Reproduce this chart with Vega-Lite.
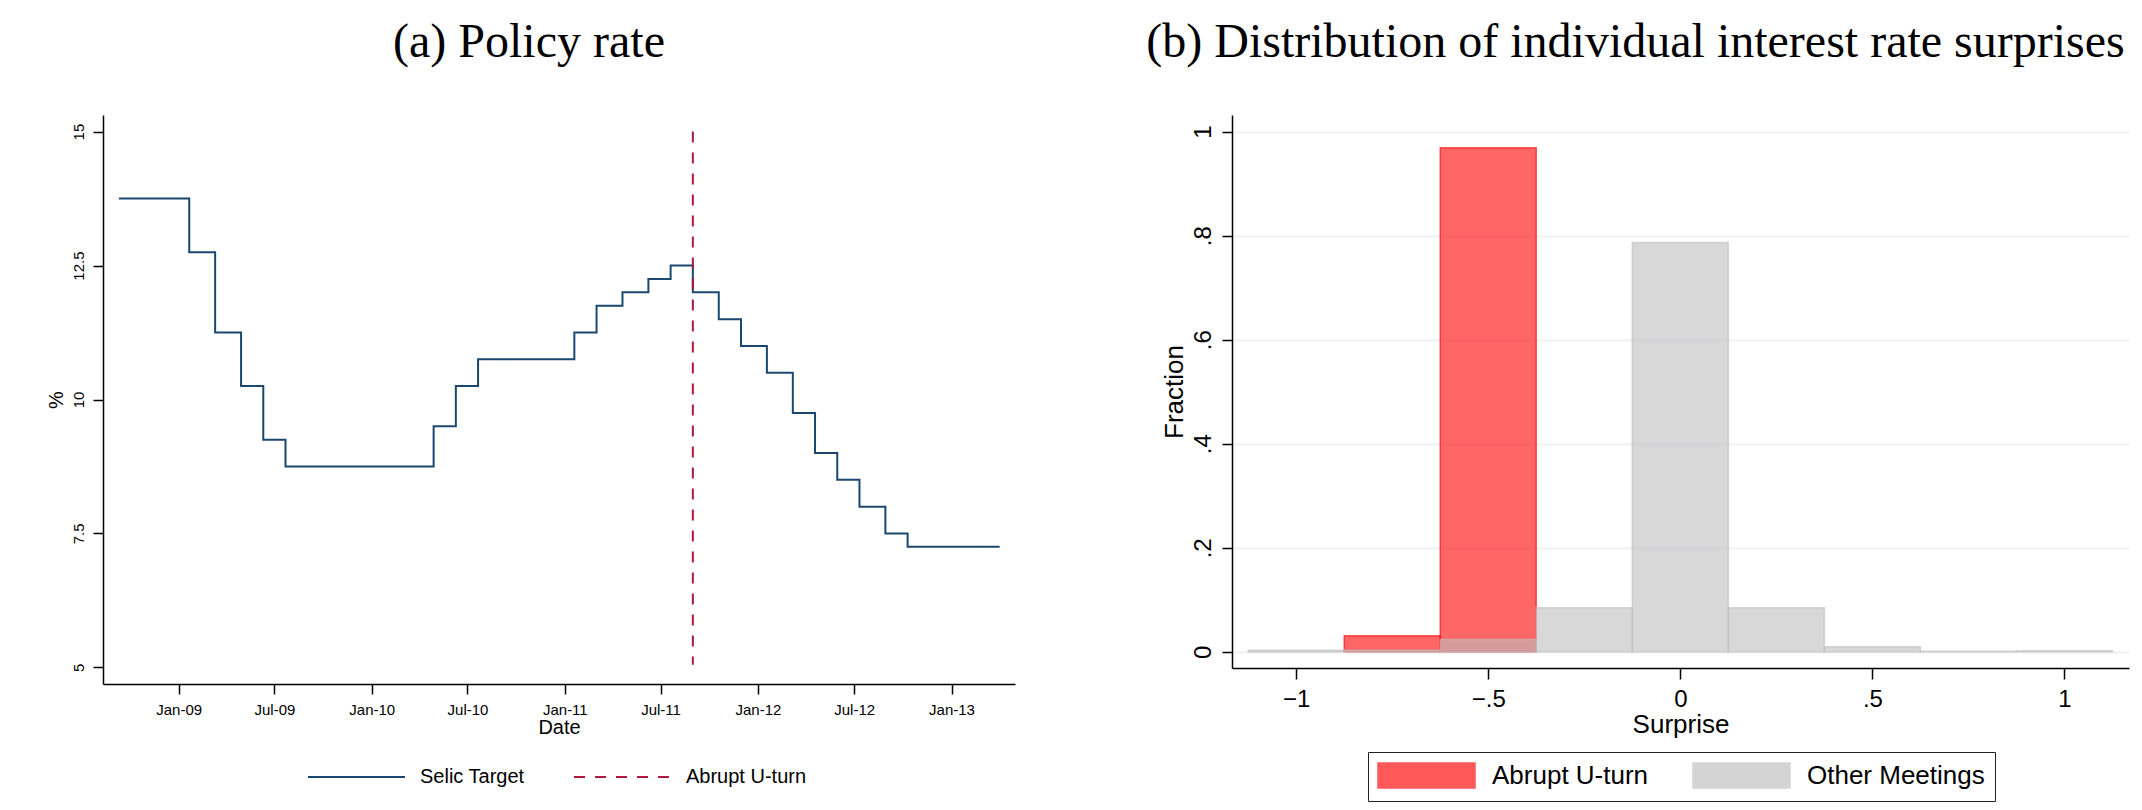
{
  "$schema": "https://vega.github.io/schema/vega-lite/v6.json",
  "background": "white",
  "padding": {"left": 46, "top": 19, "right": 5, "bottom": 5},
  "spacing": 131,
  "config": {
    "view": {"stroke": null},
    "font": "Liberation Sans",
    "title": {"font": "Liberation Serif", "fontSize": 48, "fontWeight": "normal", "color": "black", "baseline": "alphabetic", "offset": 48, "anchor": "middle"},
    "axis": {"domainColor": "black", "tickColor": "black", "labelColor": "black", "titleColor": "black", "titleFontWeight": "normal", "titleFont": "Liberation Sans", "labelFont": "Liberation Sans", "grid": false, "domainWidth": 1.5, "tickWidth": 1.5, "tickSize": 10, "labelOverlap": false, "labelFlush": false}
  },
  "resolve": {
    "scale": {"x": "independent", "y": "independent", "color": "independent", "strokeDash": "independent", "fill": "independent", "stroke": "independent"},
    "legend": {"color": "independent", "strokeDash": "independent", "fill": "independent", "stroke": "independent"}
  },
  "hconcat": [
    {
      "title": {"text": "(a) Policy rate", "dx": -30},
      "width": 912,
      "height": 569,
      "layer": [
        {
          "data": {"values": [
            {"date": "2008-09-10", "rate": 13.75, "series": "Selic Target"},
            {"date": "2009-01-21", "rate": 12.75, "series": "Selic Target"},
            {"date": "2009-03-11", "rate": 11.25, "series": "Selic Target"},
            {"date": "2009-04-29", "rate": 10.25, "series": "Selic Target"},
            {"date": "2009-06-10", "rate": 9.25, "series": "Selic Target"},
            {"date": "2009-07-22", "rate": 8.75, "series": "Selic Target"},
            {"date": "2010-04-28", "rate": 9.5, "series": "Selic Target"},
            {"date": "2010-06-09", "rate": 10.25, "series": "Selic Target"},
            {"date": "2010-07-21", "rate": 10.75, "series": "Selic Target"},
            {"date": "2011-01-19", "rate": 11.25, "series": "Selic Target"},
            {"date": "2011-03-02", "rate": 11.75, "series": "Selic Target"},
            {"date": "2011-04-20", "rate": 12.0, "series": "Selic Target"},
            {"date": "2011-06-08", "rate": 12.25, "series": "Selic Target"},
            {"date": "2011-07-20", "rate": 12.5, "series": "Selic Target"},
            {"date": "2011-08-31", "rate": 12.0, "series": "Selic Target"},
            {"date": "2011-10-19", "rate": 11.5, "series": "Selic Target"},
            {"date": "2011-11-30", "rate": 11.0, "series": "Selic Target"},
            {"date": "2012-01-18", "rate": 10.5, "series": "Selic Target"},
            {"date": "2012-03-07", "rate": 9.75, "series": "Selic Target"},
            {"date": "2012-04-18", "rate": 9.0, "series": "Selic Target"},
            {"date": "2012-05-30", "rate": 8.5, "series": "Selic Target"},
            {"date": "2012-07-11", "rate": 8.0, "series": "Selic Target"},
            {"date": "2012-08-29", "rate": 7.5, "series": "Selic Target"},
            {"date": "2012-10-10", "rate": 7.25, "series": "Selic Target"},
            {"date": "2013-04-02", "rate": 7.25, "series": "Selic Target"}
          ]},
          "mark": {"type": "line", "interpolate": "step-after", "strokeWidth": 2},
          "encoding": {
            "x": {
              "field": "date", "type": "temporal",
              "scale": {"type": "utc", "domain": [{"year": 2008, "month": 8, "date": 11, "utc": true}, {"year": 2013, "month": 5, "date": 1, "utc": true}]},
              "axis": {
                "values": [
                  {"year": 2009, "month": 1, "date": 1, "utc": true},
                  {"year": 2009, "month": 7, "date": 1, "utc": true},
                  {"year": 2010, "month": 1, "date": 1, "utc": true},
                  {"year": 2010, "month": 7, "date": 1, "utc": true},
                  {"year": 2011, "month": 1, "date": 1, "utc": true},
                  {"year": 2011, "month": 7, "date": 1, "utc": true},
                  {"year": 2012, "month": 1, "date": 1, "utc": true},
                  {"year": 2012, "month": 7, "date": 1, "utc": true},
                  {"year": 2013, "month": 1, "date": 1, "utc": true}
                ],
                "labelExpr": "utcFormat(datum.value, '%b-%y')",
                "labelFontSize": 15, "labelPadding": 8, "titleFontSize": 20, "titlePadding": 0
              },
              "title": "Date"
            },
            "y": {
              "field": "rate", "type": "quantitative",
              "scale": {"domain": [4.69, 15.31], "nice": false, "zero": false},
              "axis": {"values": [5, 7.5, 10, 12.5, 15], "labelExpr": "format(datum.value, '~g')", "labelAngle": 270, "labelAlign": "center", "labelBaseline": "bottom", "labelFontSize": 15, "labelPadding": 7, "titleFontSize": 20, "titlePadding": 5},
              "title": "%"
            },
            "color": {
              "field": "series", "type": "nominal",
              "scale": {"domain": ["Selic Target", "Abrupt U-turn"], "range": ["#1A476F", "#B0183F"]},
              "legend": {"orient": "none", "legendX": 205, "legendY": 652, "direction": "horizontal", "title": null, "symbolType": "M-9.7,0H9.7", "symbolSize": 100, "symbolStrokeWidth": 2, "symbolOffset": 38.5, "labelOffset": 53.5, "labelFontSize": 20, "labelLimit": 500, "labelColor": "black", "columnPadding": 45, "padding": 0}
            },
            "strokeDash": {
              "field": "series", "type": "nominal",
              "scale": {"domain": ["Selic Target", "Abrupt U-turn"], "range": [[1, 0], [11, 10]]},
              "legend": {"orient": "none", "legendX": 205, "legendY": 652, "direction": "horizontal", "title": null, "symbolType": "M-9.7,0H9.7", "symbolSize": 100, "symbolStrokeWidth": 2, "symbolOffset": 38.5, "labelOffset": 53.5, "labelFontSize": 20, "labelLimit": 500, "labelColor": "black", "columnPadding": 45, "padding": 0}
            }
          }
        },
        {
          "data": {"values": [{"date": "2011-08-31", "top": 15, "bottom": 5.05, "series": "Abrupt U-turn"}]},
          "mark": {"type": "rule", "strokeWidth": 2},
          "encoding": {
            "x": {"field": "date", "type": "temporal"},
            "y": {"field": "top", "type": "quantitative"},
            "y2": {"field": "bottom"},
            "color": {"field": "series", "type": "nominal"},
            "strokeDash": {"field": "series", "type": "nominal"}
          }
        }
      ]
    },
    {
      "title": {"text": "(b) Distribution of individual interest rate surprises", "dx": -45},
      "width": 897,
      "height": 553,
      "data": {"values": [
        {"group": "Abrupt U-turn", "bin_start": -0.875, "bin_end": -0.625, "fraction": 0.031},
        {"group": "Abrupt U-turn", "bin_start": -0.625, "bin_end": -0.375, "fraction": 0.969},
        {"group": "Other Meetings", "bin_start": -1.125, "bin_end": -0.875, "fraction": 0.003},
        {"group": "Other Meetings", "bin_start": -0.875, "bin_end": -0.625, "fraction": 0.003},
        {"group": "Other Meetings", "bin_start": -0.625, "bin_end": -0.375, "fraction": 0.024},
        {"group": "Other Meetings", "bin_start": -0.375, "bin_end": -0.125, "fraction": 0.085},
        {"group": "Other Meetings", "bin_start": -0.125, "bin_end": 0.125, "fraction": 0.787},
        {"group": "Other Meetings", "bin_start": 0.125, "bin_end": 0.375, "fraction": 0.085},
        {"group": "Other Meetings", "bin_start": 0.375, "bin_end": 0.625, "fraction": 0.010},
        {"group": "Other Meetings", "bin_start": 0.625, "bin_end": 0.875, "fraction": 0.001},
        {"group": "Other Meetings", "bin_start": 0.875, "bin_end": 1.125, "fraction": 0.002}
      ]},
      "mark": {"type": "rect", "fillOpacity": 0.6, "strokeOpacity": 0.6, "strokeWidth": 1.5},
      "encoding": {
        "x": {
          "field": "bin_start", "type": "quantitative",
          "scale": {"domain": [-1.167, 1.168], "nice": false, "zero": false},
          "axis": {"values": [-1, -0.5, 0, 0.5, 1], "labelExpr": "replace(format(datum.value,'~g'),'0.','.')", "labelFontSize": 24, "labelPadding": 8, "tickSize": 11, "titleFontSize": 26, "titlePadding": 0},
          "title": "Surprise"
        },
        "x2": {"field": "bin_end"},
        "y": {
          "field": "fraction", "type": "quantitative",
          "scale": {"domain": [-0.031, 1.032], "nice": false, "zero": false},
          "axis": {"values": [0, 0.2, 0.4, 0.6, 0.8, 1], "labelExpr": "replace(format(datum.value,'~g'),'0.','.')", "labelAngle": 270, "labelAlign": "center", "labelBaseline": "bottom", "labelFontSize": 24, "labelPadding": 7, "titleFontSize": 26, "titlePadding": 4, "grid": true, "gridColor": "#EAF2F3", "gridWidth": 2},
          "title": "Fraction"
        },
        "y2": {"datum": 0},
        "fill": {
          "field": "group", "type": "nominal",
          "scale": {"domain": ["Abrupt U-turn", "Other Meetings"], "range": ["#FF0000", "#BEBEBE"]},
          "legend": {"orient": "none", "legendX": 136, "legendY": 637, "direction": "horizontal", "title": null, "symbolType": "M-3.88,-1H3.88V1H-3.88Z", "symbolSize": 625, "symbolStrokeWidth": 1.5, "symbolOpacity": 0.65, "symbolOffset": 35, "labelOffset": 52, "labelFontSize": 26, "labelLimit": 500, "labelColor": "black", "columnPadding": 41, "padding": 10, "strokeColor": "#222222", "fillColor": "white"}
        },
        "stroke": {
          "field": "group", "type": "nominal",
          "scale": {"domain": ["Abrupt U-turn", "Other Meetings"], "range": ["#FF0000", "#BEBEBE"]},
          "legend": {"orient": "none", "legendX": 136, "legendY": 637, "direction": "horizontal", "title": null, "symbolType": "M-3.88,-1H3.88V1H-3.88Z", "symbolSize": 625, "symbolStrokeWidth": 1.5, "symbolOpacity": 0.65, "symbolOffset": 35, "labelOffset": 52, "labelFontSize": 26, "labelLimit": 500, "labelColor": "black", "columnPadding": 41, "padding": 10, "strokeColor": "#222222", "fillColor": "white"}
        }
      }
    }
  ]
}
